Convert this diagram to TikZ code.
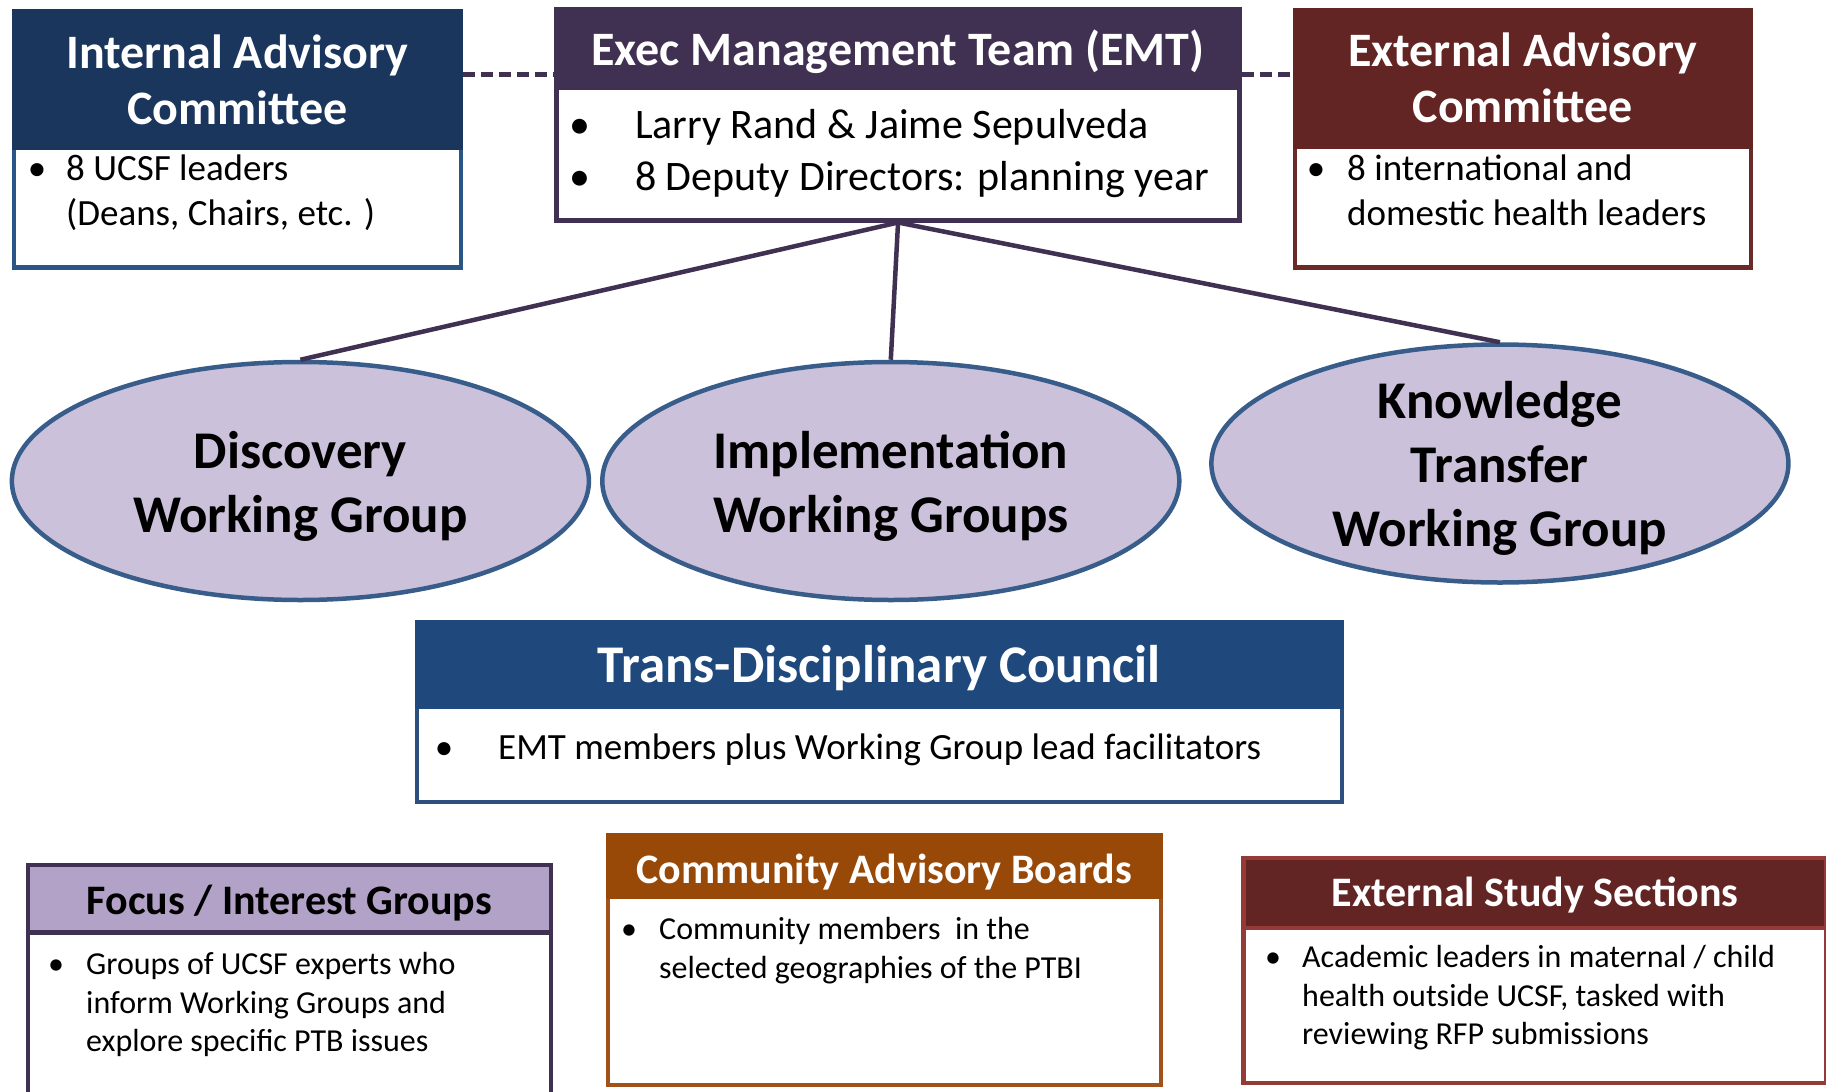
\documentclass[tikz,border=0pt]{standalone}
\usepackage{fontspec}
\setmainfont{Carlito}
\usetikzlibrary{shapes.geometric}
\definecolor{iahdr}{HTML}{1B365D}
\definecolor{iaborder}{HTML}{2A5587}
\definecolor{emtc}{HTML}{403152}
\definecolor{eac}{HTML}{632523}
\definecolor{eaborder}{HTML}{6A2A28}
\definecolor{essborder}{HTML}{963A37}
\definecolor{cabc}{HTML}{984807}
\definecolor{cabborder}{HTML}{A0521A}
\definecolor{focushdr}{HTML}{B3A2C7}
\definecolor{ellfill}{HTML}{CCC1DA}
\definecolor{ellborder}{HTML}{385D8A}
\definecolor{tdchdr}{HTML}{1F497D}
\definecolor{tdcborder}{HTML}{2C4F80}
\begin{document}
\begin{tikzpicture}[x=1pt,y=-1pt,
  frame/.style={draw, line width=4.5pt, fill=white, rectangle, inner sep=0pt, anchor=north west},
  hdr/.style={rectangle, inner sep=0pt, anchor=north west, line width=4.5pt},
  bigtitle/.style={text=white, font=\bfseries\fontsize{48}{56}\selectfont, align=center, inner sep=0pt},
  smalltitle/.style={font=\bfseries\fontsize{42}{50}\selectfont, align=center, inner sep=0pt},
  bodyM/.style={font=\fontsize{37}{45}\selectfont, inner sep=0pt},
  bodyL/.style={font=\fontsize{42}{52}\selectfont, inner sep=0pt},
  bodyS/.style={font=\fontsize{32}{38}\selectfont, inner sep=0pt},
  bul/.style={anchor=base},
  txt/.style={anchor=base west},
  wg/.style={ellipse, draw=ellborder, fill=ellfill, line width=4.5pt, minimum width=577pt, minimum height=238pt, inner sep=0pt},
  wgtext/.style={align=center, inner sep=0pt, font=\bfseries\fontsize{53}{64}\selectfont},
  conn/.style={draw=emtc, line width=4.5pt},
  dashconn/.style={draw=emtc, line width=4.5pt, dash pattern=on 12pt off 6pt}
]
\useasboundingbox (0,0) rectangle (1826,1092);

% Internal Advisory Committee
\node[frame, draw=iaborder, minimum width=447pt, minimum height=256pt] (ia) at (11.6,9.3) {};
\node[hdr, fill=iahdr, draw=iahdr, minimum width=447pt, minimum height=136pt] (iah) at (ia.north west) {};
\node[bigtitle] (iat) at (iah.center) {Internal Advisory\\Committee};
\node[bodyM, bul] (iab1) at (37,180) {•};
\node[bodyM, txt] (iax1) at (66,180) {8 UCSF leaders};
\node[bodyM, txt] (iax2) at (66,225) {(Deans, Chairs, etc. )};

% Exec Management Team
\node[frame, draw=emtc, minimum width=683pt, minimum height=211pt] (emt) at (554.3,7) {};
\node[hdr, fill=emtc, draw=emtc, minimum width=683pt, minimum height=78pt] (emth) at (emt.north west) {};
\node[bigtitle] (emtt) at ([yshift=-4pt]emth.center) {Exec Management Team (EMT)};
\node[bodyL, bul] (emtb1) at (580,138) {•};
\node[bodyL, txt] (emtx1) at (635,138) {Larry Rand \& Jaime Sepulveda};
\node[bodyL, bul] (emtb2) at (580,190) {•};
\node[bodyL, txt] (emtx2) at (635,190) {8 Deputy Directors: planning year};

% External Advisory Committee
\node[frame, draw=eaborder, minimum width=456pt, minimum height=257pt] (ea) at (1292.6,8.2) {};
\node[hdr, fill=eac, draw=eac, minimum width=456pt, minimum height=136pt] (eah) at (ea.north west) {};
\node[bigtitle] (eat) at ([yshift=1pt]eah.center) {External Advisory\\Committee};
\node[bodyM, bul] (eab1) at (1316,180) {•};
\node[bodyM, txt] (eax1) at (1347,180) {8 international and};
\node[bodyM, txt] (eax2) at (1347,225) {domestic health leaders};

% dashed links
\draw[dashconn] (ia.east |- 0,74.5) -- (emt.west |- 0,74.5);
\draw[dashconn] (emt.east |- 0,74.5) -- (ea.west |- 0,74.5);

% Working groups
\node[wg] (disc) at (300.4,481) {};
\node[wg] (impl) at (890.8,481) {};
\node[wg] (kt) at (1499.9,463.5) {};
\node[wgtext] (disct) at ([yshift=-5pt]disc.center) {Discovery\\Working Group};
\node[wgtext] (implt) at ([yshift=-5pt]impl.center) {Implementation\\Working Groups};
\node[wgtext] (ktt) at ([yshift=-5pt]kt.center) {Knowledge\\Transfer\\Working Group};

\draw[conn] (emt.south) -- (disc.north);
\draw[conn] (emt.south) -- (impl.north);
\draw[conn] (emt.south) -- (kt.north);

% Trans-Disciplinary Council
\node[frame, draw=tdcborder, minimum width=925pt, minimum height=180pt] (tdc) at (414.6,619.5) {};
\node[hdr, fill=tdchdr, draw=tdchdr, minimum width=925pt, minimum height=85pt] (tdch) at (tdc.north west) {};
\node[bigtitle, font=\bfseries\fontsize{53}{60}\selectfont] (tdct) at ([yshift=-4pt]tdch.center) {Trans-Disciplinary Council};
\node[bodyM, bul] (tdcb1) at (444,759) {•};
\node[bodyM, txt] (tdcx1) at (498,759) {EMT members plus Working Group lead facilitators};

% Focus / Interest Groups
\node[frame, draw=emtc, minimum width=523pt, minimum height=260pt] (fig) at (25.6,862.9) {};
\node[hdr, fill=focushdr, draw=emtc, minimum width=523pt, minimum height=67.5pt] (figh) at (fig.north west) {};
\node[smalltitle, text=black] (figt) at ([yshift=-4pt]figh.center) {Focus / Interest Groups};
\node[bodyS, bul] (figb1) at (56,974) {•};
\node[bodyS, txt] (figx1) at (86,974) {Groups of UCSF experts who};
\node[bodyS, txt] (figx2) at (86,1013) {inform Working Groups and};
\node[bodyS, txt] (figx3) at (86,1051) {explore specific PTB issues};

% Community Advisory Boards
\node[frame, draw=cabborder, minimum width=553pt, minimum height=250pt] (cab) at (605.5,832.6) {};
\node[hdr, fill=cabc, draw=cabc, minimum width=553pt, minimum height=61.7pt] (cabh) at (cab.north west) {};
\node[smalltitle, text=white] (cabt) at ([yshift=-6.5pt]cabh.center) {Community Advisory Boards};
\node[bodyS, bul] (cabb1) at (629,939) {•};
\node[bodyS, txt] (cabx1) at (659,939) {Community members \ in the};
\node[bodyS, txt] (cabx2) at (659,978) {selected geographies of the PTBI};

% External Study Sections
\node[frame, draw=essborder, minimum width=583pt, minimum height=225pt] (ess) at (1241.4,855.9) {};
\node[hdr, fill=eac, draw=essborder, minimum width=583pt, minimum height=70pt] (essh) at (ess.north west) {};
\node[smalltitle, text=white] (esst) at ([yshift=-1.5pt]essh.center) {External Study Sections};
\node[bodyS, bul] (essb1) at (1273,967) {•};
\node[bodyS, txt] (essx1) at (1302,967) {Academic leaders in maternal / child};
\node[bodyS, txt] (essx2) at (1302,1006) {health outside UCSF, tasked with};
\node[bodyS, txt] (essx3) at (1302,1044) {reviewing RFP submissions};
\end{tikzpicture}
\end{document}
